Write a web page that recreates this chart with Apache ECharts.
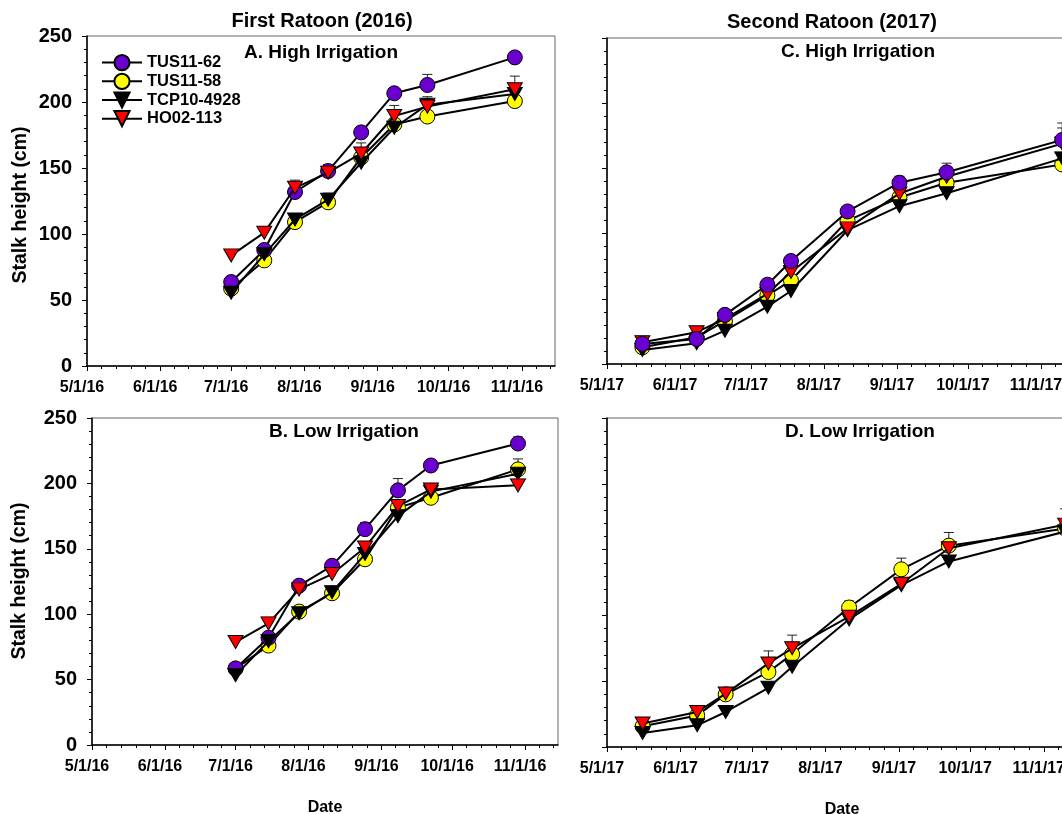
<!DOCTYPE html>
<html>
<head>
<meta charset="utf-8">
<script src="https://cdn.jsdelivr.net/npm/echarts@6/dist/echarts.min.js"></script>
<style>
  html, body { margin: 0; padding: 0; background: #fff; }
  #chart { width: 1062px; height: 814px; }
</style>
</head>
<body>
<div id="chart"></div>
<script>
// Varieties and sampling dates
const varieties = ['TUS11-62', 'TUS11-58', 'TCP10-4928', 'HO02-113'];
const dates2016 = ['2016-07-01', '2016-07-15', '2016-07-28', '2016-08-11', '2016-08-25', '2016-09-08', '2016-09-22', '2016-10-29'];
const dates2017 = ['2017-05-16', '2017-06-08', '2017-06-20', '2017-07-08', '2017-07-18', '2017-08-11', '2017-09-02', '2017-09-22', '2017-11-10'];
const yTicks = [0, 50, 100, 150, 200, 250];

// A. First ratoon, high irrigation (stalk height, cm) and upper error
const hiA_tus1162 = [63.6, 87.9, 131.8, 147.7, 177, 206.6, 212.9, 233.8];
const hiA_tus1158 = [58.6, 80, 109, 124, 158, 183, 189, 200.7];
const hiA_tcp = [55.5, 84.6, 111, 126, 154, 180.5, 198, 206];
const hiA_ho = [83.8, 101, 135, 146.5, 161, 189.4, 196.5, 209.6];
const hiA_tus1162_se = [3, 3, 9, 5, 4, 3, 8, 4];
const hiA_tus1158_se = [2, 3, 3, 3, 4, 4, 4, 3];
const hiA_tcp_se = [2, 3, 3, 5, 4, 4, 6, 8];
const hiA_ho_se = [2, 2, 4, 4, 8, 8, 6, 10];

// B. First ratoon, low irrigation
const loB_tus1162 = [58.5, 82, 121.8, 137, 165, 194.7, 213.7, 230.5];
const loB_tus1158 = [58.4, 76, 102, 116, 142, 181.5, 189, 210.7];
const loB_tcp = [53.3, 79.4, 100.8, 116.8, 146, 175, 193.7, 207.4];
const loB_ho = [78.7, 93, 119, 130.7, 151, 182.7, 195.4, 198.5];
const loB_tus1162_se = [2, 3, 2, 3, 5, 9, 4, 5];
const loB_tus1158_se = [2, 2, 3, 2, 3, 4, 3, 8];
const loB_tcp_se = [2, 2, 3, 2, 3, 4, 3, 4];
const loB_ho_se = [2, 2, 3, 3, 3, 3, 3, 3];

// C. Second ratoon, high irrigation
const hiC_tus1162 = [15.4, 19.2, 37.7, 60.8, 79, 117, 139, 147, 171.8];
const hiC_tus1158 = [12.8, 20.5, 33, 52.6, 64, 110, 127.7, 139, 153];
const hiC_tcp = [10.8, 16, 25.6, 44, 56, 102.6, 121, 131, 157.7];
const hiC_ho = [16.7, 24.4, 34.6, 53.8, 70.5, 104, 130.8, 143.6, 169];
const hiC_tus1162_se = [3, 2, 3, 2, 2, 2, 5, 7, 13];
const hiC_tus1158_se = [2, 2, 2, 2, 3, 3, 3, 3, 4];
const hiC_tcp_se = [2, 2, 2, 2, 2, 3, 3, 3, 4];
const hiC_ho_se = [3, 3, 3, 3, 3, 3, 3, 3, 12];

// D. Second ratoon, low irrigation
const loD_tus1158 = [15.7, 24, 40, 57, 70.6, 106, 135, 153, 166];
const loD_tcp = [10.7, 16.5, 26.6, 45, 61, 97, 123, 141, 163.7];
const loD_ho = [17.8, 26.6, 40.6, 63.5, 75, 99, 124, 151, 169];
const loD_tus1158_se = [3, 3, 3, 4, 4, 5, 8.5, 10, 7];
const loD_tcp_se = [2, 2, 2, 2, 2, 3, 3, 3, 4];
const loD_ho_se = [3, 3, 3, 9.5, 10, 3, 3, 3, 12];

const FONT = 'Liberation Sans, Arial, sans-serif';
const fillColor = { 'TUS11-62': '#6a00d0', 'TUS11-58': '#ffff00', 'TCP10-4928': '#000000', 'HO02-113': '#ff0000' };
const CIRCLE = 'circle';
const TRI_DOWN = 'path://M0,0L20,0L10,17Z';
const shape = { 'TUS11-62': CIRCLE, 'TUS11-58': CIRCLE, 'TCP10-4928': TRI_DOWN, 'HO02-113': TRI_DOWN };

const ts = s => { const p = s.split('-').map(Number); return new Date(p[0], p[1] - 1, p[2]).getTime(); };
const fmtDate = v => { const d = new Date(v); return (d.getMonth() + 1) + '/' + d.getDate() + '/' + String(d.getFullYear()).slice(2); };

function majorTicks(year) {
  const out = [];
  for (let m = 4; m <= 10; m++) out.push(new Date(year, m, 1).getTime());
  return out;
}
function minorTicks(year) {
  const out = [];
  for (let m = 4; m <= 9; m++) {
    const a = new Date(year, m, 1).getTime(), b = new Date(year, m + 1, 1).getTime();
    for (let k = 1; k <= 4; k++) out.push(a + k * (b - a) / 5);
  }
  const nov = new Date(year, 10, 1).getTime(), day = 86400000;
  out.push(nov + 6 * day, nov + 12 * day);
  return out;
}

// Marker stacking per panel (last drawn on top)
const order2016 = ['TUS11-58', 'TUS11-62', 'TCP10-4928', 'HO02-113'];
const order2017 = ['TUS11-58', 'TCP10-4928', 'HO02-113', 'TUS11-62'];

// Panel layout: plot rectangles in pixels
const panels = [
  { key: 'A', year: 2016, dates: dates2016, order: order2016, grid: { left: 87, top: 36, width: 468, height: 330 }, yLabels: true, xName: '',
    series: [['TUS11-62', hiA_tus1162, hiA_tus1162_se], ['TUS11-58', hiA_tus1158, hiA_tus1158_se], ['TCP10-4928', hiA_tcp, hiA_tcp_se], ['HO02-113', hiA_ho, hiA_ho_se]] },
  { key: 'B', year: 2016, dates: dates2016, order: order2016, grid: { left: 92, top: 418, width: 466, height: 327 }, yLabels: true, xName: 'Date',
    series: [['TUS11-62', loB_tus1162, loB_tus1162_se], ['TUS11-58', loB_tus1158, loB_tus1158_se], ['TCP10-4928', loB_tcp, loB_tcp_se], ['HO02-113', loB_ho, loB_ho_se]] },
  { key: 'C', year: 2017, dates: dates2017, order: order2017, grid: { left: 607, top: 38, width: 467, height: 326 }, yLabels: false, xName: '',
    series: [['TUS11-62', hiC_tus1162, hiC_tus1162_se], ['TUS11-58', hiC_tus1158, hiC_tus1158_se], ['TCP10-4928', hiC_tcp, hiC_tcp_se], ['HO02-113', hiC_ho, hiC_ho_se]] },
  { key: 'D', year: 2017, dates: dates2017, order: order2017, grid: { left: 607, top: 418, width: 470, height: 329 }, yLabels: false, xName: 'Date',
    series: [['TUS11-58', loD_tus1158, loD_tus1158_se], ['TCP10-4928', loD_tcp, loD_tcp_se], ['HO02-113', loD_ho, loD_ho_se]] }
];

const grids = [], xAxes = [], yAxes = [], lineSeries = [], errSeries = [];

function errRender(params, api) {
  const x = api.value(0), y = api.value(1), e = api.value(2);
  const p0 = api.coord([x, y]);
  const p1 = api.coord([x, y + e]);
  const w = 5;
  const st = { stroke: '#222', lineWidth: 1 };
  return {
    type: 'group',
    children: [
      { type: 'line', shape: { x1: p0[0], y1: p0[1], x2: p1[0], y2: p1[1] }, style: st },
      { type: 'line', shape: { x1: p1[0] - w, y1: p1[1], x2: p1[0] + w, y2: p1[1] }, style: st }
    ]
  };
}

panels.forEach((p, i) => {
  grids.push(Object.assign({ show: true, borderColor: '#666', borderWidth: 1, backgroundColor: 'transparent', outerBoundsMode: 'none', containLabel: false }, p.grid));
  const min = new Date(p.year, 4, 1).getTime();
  const max = new Date(p.year, 10, 15).getTime();
  const majors = majorTicks(p.year);
  // Date axis kept as a numeric (timestamp) scale with month-start ticks
  xAxes.push({
    type: 'value', gridIndex: i, position: 'bottom', min, max,
    axisLine: { show: true, lineStyle: { color: '#000', width: 1.5 } },
    axisTick: { show: true, customValues: majors, length: 5, lineStyle: { color: '#000', width: 1 } },
    axisLabel: { show: true, customValues: majors, formatter: fmtDate, color: '#000', fontFamily: FONT, fontWeight: 'bold', fontSize: 16, margin: 14, padding: [0, 10, 0, 0], hideOverlap: false },
    splitLine: { show: false },
    name: p.xName, nameLocation: 'middle', nameGap: 55,
    nameTextStyle: { color: '#000', fontFamily: FONT, fontWeight: 'bold', fontSize: 16 }
  });
  xAxes.push({
    type: 'value', gridIndex: i, position: 'bottom', min, max,
    axisLine: { show: false },
    axisTick: { show: true, customValues: minorTicks(p.year), length: 3, lineStyle: { color: '#000', width: 1 } },
    axisLabel: { show: false },
    splitLine: { show: false }
  });
  yAxes.push({
    type: 'value', gridIndex: i, min: yTicks[0], max: yTicks[yTicks.length - 1], interval: yTicks[1] - yTicks[0],
    axisLine: { show: true, lineStyle: { color: '#000', width: 1.5 } },
    axisTick: { show: true, length: 5, lineStyle: { color: '#000' } },
    minorTick: { show: true, splitNumber: 5, length: 3, lineStyle: { color: '#000' } },
    splitLine: { show: false }, minorSplitLine: { show: false },
    axisLabel: { show: p.yLabels, color: '#000', fontFamily: FONT, fontWeight: 'bold', fontSize: 20, margin: 15 }
  });

  // Legend icons come from the first series with a given name, so panel A keeps legend order
  const seq = i === 0 ? varieties.map(n => p.series.find(s => s[0] === n))
                      : p.order.map(n => p.series.find(s => s[0] === n)).filter(Boolean);
  seq.forEach(([name, vals, se]) => {
    const pts = p.dates.map((d, j) => [ts(d), vals[j]]);
    lineSeries.push({
      type: 'line', name, xAxisIndex: 2 * i, yAxisIndex: i,
      data: pts, symbol: shape[name], symbolSize: shape[name] === CIRCLE ? 15 : [15, 13],
      lineStyle: { color: '#000', width: 2 },
      itemStyle: { color: fillColor[name], borderColor: '#000', borderWidth: 1 },
      z: 3 + p.order.indexOf(name) * 0.1, animation: false, silent: true
    });
    errSeries.push({
      type: 'custom', name, xAxisIndex: 2 * i, yAxisIndex: i,
      renderItem: errRender, encode: { x: 0, y: 1 },
      data: p.dates.map((d, j) => [ts(d), vals[j], se[j]]),
      z: 2, animation: false, silent: true, clip: false
    });
  });
});

const textStyle = (size) => ({ fill: '#000', font: 'bold ' + size + 'px ' + FONT, textAlign: 'center', textVerticalAlign: 'middle' });
const graphics = [
  { type: 'text', x: 322, y: 21, style: Object.assign({ text: 'First Ratoon (2016)' }, textStyle(20)) },
  { type: 'text', x: 832, y: 22, style: Object.assign({ text: 'Second Ratoon (2017)' }, textStyle(20)) },
  { type: 'text', x: 321, y: 53, style: Object.assign({ text: 'A. High Irrigation' }, textStyle(19)) },
  { type: 'text', x: 344, y: 432, style: Object.assign({ text: 'B. Low Irrigation' }, textStyle(19)) },
  { type: 'text', x: 858, y: 52, style: Object.assign({ text: 'C. High Irrigation' }, textStyle(19)) },
  { type: 'text', x: 860, y: 432, style: Object.assign({ text: 'D. Low Irrigation' }, textStyle(19)) },
  { type: 'text', x: 21, y: 205, rotation: Math.PI / 2, style: Object.assign({ text: 'Stalk height (cm)' }, textStyle(19.5)) },
  { type: 'text', x: 20, y: 581, rotation: Math.PI / 2, style: Object.assign({ text: 'Stalk height (cm)' }, textStyle(19.5)) }
];

const chart = echarts.init(document.getElementById('chart'), null, { renderer: 'canvas' });
chart.setOption({
  animation: false,
  backgroundColor: '#fff',
  grid: grids,
  xAxis: xAxes,
  yAxis: yAxes,
  legend: {
    data: varieties, orient: 'vertical', left: 96, top: 49,
    itemWidth: 40, itemHeight: 19, itemGap: 1.5,
    textStyle: { color: '#000', fontFamily: FONT, fontWeight: 'bold', fontSize: 16.5 },
    selectedMode: false
  },
  graphic: graphics,
  series: lineSeries.concat(errSeries)
});
</script>
</body>
</html>
